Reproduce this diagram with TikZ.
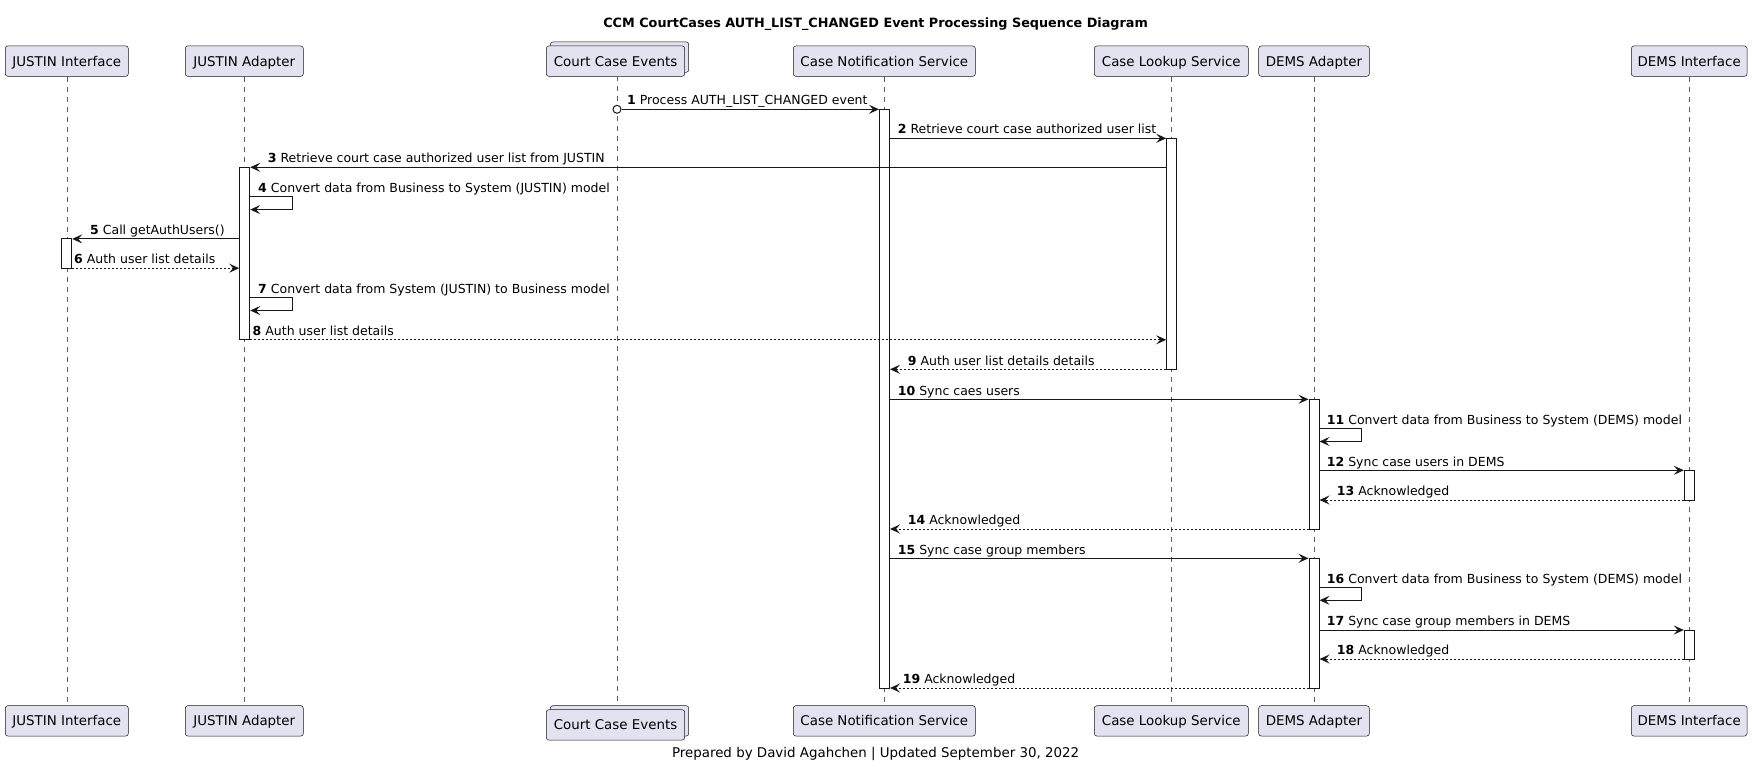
\documentclass[tikz,border=0pt]{standalone}
\usepackage{fontspec}
\setmainfont{DejaVu Sans}
\usetikzlibrary{arrows.meta,calc}
\definecolor{lc}{HTML}{181818}
\definecolor{pfill}{HTML}{E2E2F0}
\newcommand\msgfont{\fontsize{12.5}{15}\selectfont}
\newcommand\partfont{\fontsize{13.4}{16}\selectfont}
\newcommand\actnode[4]{\node[actbox, minimum height={#3-#2}] (#1) at (#4,{(#2+#3)/2}) {};}
\tikzset{
  part/.style={draw=lc, fill=pfill, rounded corners=2.5pt, line width=0.5pt,
    minimum height=30.3pt, inner sep=0pt, font=\partfont, text=black,
    text height=9.8pt, text depth=0pt},
  actbox/.style={draw=lc, fill=white, line width=1pt, minimum width=10pt, inner sep=0pt},
  msg/.style={draw=lc, line width=1pt, -{Stealth[length=10pt,width=9pt,inset=4pt]}},
  ret/.style={msg, dash pattern=on 2pt off 2pt},
  life/.style={draw=lc!70, line width=0.5pt, dash pattern=on 5pt off 5pt},
  lbl/.style={anchor=base west, inner sep=0pt, font=\msgfont, text=black},
}
\begin{document}
\begin{tikzpicture}[x=1pt,y=-1pt]
\useasboundingbox (0,0) rectangle (1752,767);
\fill[white] (0,0) rectangle (1752,767);

% title and footer
\node[anchor=base, inner sep=0pt, font=\bfseries\fontsize{12.8}{15}\selectfont] (title) at (875.6,28) {CCM CourtCases AUTH\_LIST\_CHANGED Event Processing Sequence Diagram};
\node[anchor=base, inner sep=0pt, font=\partfont] (footer) at (875.6,757) {Prepared by David Agahchen | Updated September 30, 2022};

% participants top
\node[part, minimum width=123pt] (jiT) at (66.8,61.15) {JUSTIN Interface};
\node[part, minimum width=118pt] (jaT) at (244.3,61.15) {JUSTIN Adapter};
\node[part, minimum width=138.4pt] (cceTb) at (619.5,57.15) {};
\node[part, minimum width=138.4pt] (cceT) at (615.5,61.15) {Court Case Events};
\node[part, minimum width=182pt] (cnsT) at (884.3,61.15) {Case Notification Service};
\node[part, minimum width=154pt] (clsT) at (1171.3,61.15) {Case Lookup Service};
\node[part, minimum width=110.6pt] (daT) at (1314,61.15) {DEMS Adapter};
\node[part, minimum width=115.7pt] (diT) at (1689.2,61.15) {DEMS Interface};

% participants bottom
\node[part, minimum width=123pt] (jiB) at (66.8,720.85) {JUSTIN Interface};
\node[part, minimum width=118pt] (jaB) at (244.3,720.85) {JUSTIN Adapter};
\node[part, minimum width=138.4pt] (cceBb) at (619.5,720.85) {};
\node[part, minimum width=138.4pt] (cceB) at (615.5,724.85) {Court Case Events};
\node[part, minimum width=182pt] (cnsB) at (884.3,720.85) {Case Notification Service};
\node[part, minimum width=154pt] (clsB) at (1171.3,720.85) {Case Lookup Service};
\node[part, minimum width=110.6pt] (daB) at (1314,720.85) {DEMS Adapter};
\node[part, minimum width=115.7pt] (diB) at (1689.2,720.85) {DEMS Interface};

% lifelines
\coordinate (cceTop) at (617,76.3);
\coordinate (cceBot) at (617,705.7);
\draw[life] (jiT.south) -- (jiB.north);
\draw[life] (jaT.south) -- (jaB.north);
\draw[life] (cceTop) -- (cceBot);
\draw[life] (cnsT.south) -- (cnsB.north);
\draw[life] (clsT.south) -- (clsB.north);
\draw[life] (daT.south) -- (daB.north);
\draw[life] (diT.south) -- (diB.north);

% message rows
\coordinate (m1) at (0,109.3);
\coordinate (m2) at (0,138.3);
\coordinate (m3) at (0,167.3);
\coordinate (m4) at (0,196.6);
\coordinate (m4b) at (0,209.6);
\coordinate (m5) at (0,238.9);
\coordinate (m6) at (0,268.2);
\coordinate (m7) at (0,297.5);
\coordinate (m7b) at (0,310.5);
\coordinate (m8) at (0,339.8);
\coordinate (m9) at (0,369.3);
\coordinate (m10) at (0,399.3);
\coordinate (m11) at (0,428.3);
\coordinate (m11b) at (0,441.5);
\coordinate (m12) at (0,470.3);
\coordinate (m13) at (0,500);
\coordinate (m14) at (0,529);
\coordinate (m15) at (0,558.3);
\coordinate (m16) at (0,587.3);
\coordinate (m16b) at (0,600.3);
\coordinate (m17) at (0,630);
\coordinate (m18) at (0,659);
\coordinate (m19) at (0,688);

% activations
\actnode{cns1}{109.3}{688}{884.5}
\actnode{cls1}{138.3}{369.3}{1171.7}
\actnode{ja1}{167.3}{339.8}{244.7}
\actnode{ji1}{238.9}{268.2}{66.7}
\actnode{da1}{399.3}{529}{1314}
\actnode{da2}{558.3}{688}{1314}
\actnode{di1}{470.3}{500}{1689.3}
\actnode{di2}{630}{659}{1689.3}

% messages
\node[draw=lc, fill=white, line width=1pt, circle, minimum size=8pt, inner sep=0pt] (c1) at (617,109.3) {};
\draw[msg] (c1.east) -- (cns1.west |- m1);
\draw[msg] (cns1.east |- m2) -- (cls1.west |- m2);
\draw[msg] (cls1.west |- m3) -- (ja1.east |- m3);
\draw[msg] (ja1.east |- m4) -- ++(42,0) -- ++(0,13) -- (ja1.east |- m4b);
\draw[msg] (ja1.west |- m5) -- (ji1.east |- m5);
\draw[ret] (ji1.east |- m6) -- (ja1.west |- m6);
\draw[msg] (ja1.east |- m7) -- ++(42,0) -- ++(0,13) -- (ja1.east |- m7b);
\draw[ret] (ja1.east |- m8) -- (cls1.west |- m8);
\draw[ret] (cls1.west |- m9) -- (cns1.east |- m9);
\draw[msg] (cns1.east |- m10) -- (da1.west |- m10);
\draw[msg] (da1.east |- m11) -- ++(42,0) -- ++(0,13.2) -- (da1.east |- m11b);
\draw[msg] (da1.east |- m12) -- (di1.west |- m12);
\draw[ret] (di1.west |- m13) -- (da1.east |- m13);
\draw[ret] (da1.west |- m14) -- (cns1.east |- m14);
\draw[msg] (cns1.east |- m15) -- (da2.west |- m15);
\draw[msg] (da2.east |- m16) -- ++(42,0) -- ++(0,13) -- (da2.east |- m16b);
\draw[msg] (da2.east |- m17) -- (di2.west |- m17);
\draw[ret] (di2.west |- m18) -- (da2.east |- m18);
\draw[ret] (da2.west |- m19) -- (cns1.east |- m19);

% labels
\node[lbl] (l1) at (627,105) {\textbf{1} Process AUTH\_LIST\_CHANGED event};
\node[lbl] (l2) at (897.7,134) {\textbf{2} Retrieve court case authorized user list};
\node[lbl] (l3) at (267.7,163) {\textbf{3} Retrieve court case authorized user list from JUSTIN};
\node[lbl] (l4) at (258,192.3) {\textbf{4} Convert data from Business to System (JUSTIN) model};
\node[lbl] (l5) at (90,234.6) {\textbf{5} Call getAuthUsers()};
\node[lbl] (l6) at (74,263.9) {\textbf{6} Auth user list details};
\node[lbl] (l7) at (258,293.2) {\textbf{7} Convert data from System (JUSTIN) to Business model};
\node[lbl] (l8) at (252.5,335.5) {\textbf{8} Auth user list details};
\node[lbl] (l9) at (907.7,365) {\textbf{9} Auth user list details details};
\node[lbl] (l10) at (897.7,395) {\textbf{10} Sync caes users};
\node[lbl] (l11) at (1326.7,424) {\textbf{11} Convert data from Business to System (DEMS) model};
\node[lbl] (l12) at (1326.7,466) {\textbf{12} Sync case users in DEMS};
\node[lbl] (l13) at (1336.7,495.7) {\textbf{13} Acknowledged};
\node[lbl] (l14) at (907.7,524.7) {\textbf{14} Acknowledged};
\node[lbl] (l15) at (897.7,554) {\textbf{15} Sync case group members};
\node[lbl] (l16) at (1326.7,583) {\textbf{16} Convert data from Business to System (DEMS) model};
\node[lbl] (l17) at (1326.7,625.7) {\textbf{17} Sync case group members in DEMS};
\node[lbl] (l18) at (1336.7,654.7) {\textbf{18} Acknowledged};
\node[lbl] (l19) at (902.7,683.7) {\textbf{19} Acknowledged};
\end{tikzpicture}
\end{document}
